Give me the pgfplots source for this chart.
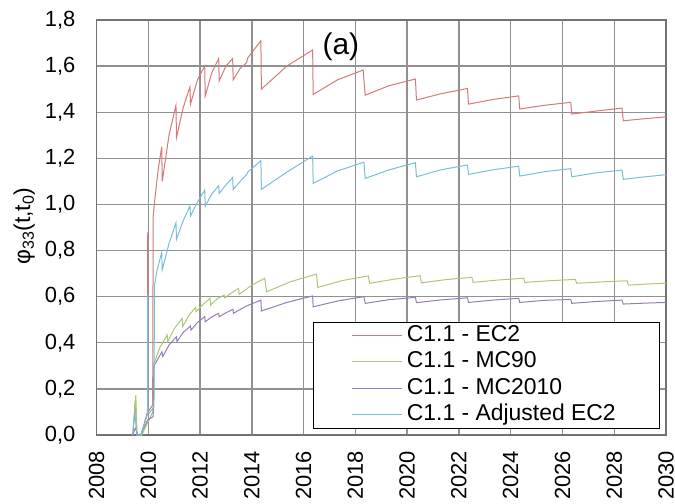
\documentclass[border=0pt]{standalone}
\usepackage{fontspec}
\setmainfont{Liberation Sans}
\usepackage{pgfplots}
\pgfplotsset{compat=1.18}
\definecolor{cred}{RGB}{214,120,120}
\definecolor{cgreen}{RGB}{170,200,120}
\definecolor{cpurple}{RGB}{150,125,180}
\definecolor{cblue}{RGB}{120,190,215}
\definecolor{cgrid}{RGB}{145,145,148}
\definecolor{cframe}{RGB}{115,115,118}
\begin{document}
\begin{tikzpicture}
\begin{axis}[
  at={(0,0)}, anchor=south west,
  scale only axis, width=569.5bp, height=415bp,
  xmin=2008, xmax=2030, ymin=0, ymax=1.8,
  xtick={2008,2010,...,2030},
  ytick={0,0.2,0.4,0.6,0.8,1.0,1.2,1.4,1.6,1.8},
  /pgf/number format/assume math mode=true,
  tick label style={font=\fontsize{22}{26}\selectfont},
  y tick label style={/pgf/number format/.cd, fixed, fixed zerofill, precision=1, use comma, /tikz/.cd, inner sep=0pt},
  x tick label style={/pgf/number format/.cd, 1000 sep={}, /tikz/.cd, rotate=90, anchor=east, inner sep=0pt},
  xticklabel shift=16bp,
  yticklabel shift=21bp,
  grid=major,
  major grid style={line width=1.4bp, color=cgrid},
  axis line style={line width=1.6bp, color=cframe},
  major tick length=0pt,
  ylabel={φ\textsubscript{33}(t,t\textsubscript{0})},
  ylabel style={at={(axis description cs:-0.127,0.503)}, anchor=center, font=\fontsize{23}{27}\selectfont},
  legend style={at={(0.988,0.016)}, anchor=south east, draw=black, line width=0.6bp,
    font=\fontsize{23}{27}\selectfont, row sep=0bp, inner sep=0bp,
    nodes={inner sep=2bp, text height=17bp, text depth=5.5bp}},
  legend cell align=left,
  legend image code/.code={\path (0bp,0bp) (91bp,0bp); \draw[#1, line width=1.2bp] (39bp,0bp) -- (89bp,0bp);},
  every axis plot/.append style={line width=1bp},
]
\addplot[color=cred] coordinates {
(2009.40,0) (2009.50,0.15) (2009.56,0) (2009.72,0) (2009.97,0.10) (2009.98,0.88) (2009.99,0.10)
(2010.17,0.13) (2010.19,0.95) (2010.26,1.03) (2010.38,1.15) (2010.52,1.25)
(2010.54,1.10) (2010.80,1.30) (2011.07,1.43)
(2011.09,1.29) (2011.35,1.42) (2011.61,1.51)
(2011.63,1.435) (2011.90,1.54) (2012.18,1.60)
(2012.20,1.47) (2012.45,1.57) (2012.72,1.633)
(2012.74,1.536) (2013.00,1.60) (2013.26,1.633)
(2013.28,1.54) (2013.55,1.59) (2013.80,1.615) (2013.84,1.635) (2014.35,1.71)
(2014.37,1.50) (2015.35,1.60) (2016.35,1.67)
(2016.37,1.477) (2017.30,1.54) (2018.30,1.583)
(2018.38,1.474) (2019.30,1.515) (2020.32,1.544)
(2020.36,1.453) (2021.30,1.48) (2022.33,1.503)
(2022.37,1.435) (2023.30,1.455) (2024.31,1.471)
(2024.35,1.414) (2025.30,1.43) (2026.32,1.443)
(2026.36,1.392) (2027.30,1.405) (2028.30,1.418)
(2028.35,1.363) (2029.20,1.372) (2030.00,1.38)
};
\addlegendentry{\makebox[250bp][l]{C1.1 - EC2}}
\addplot[color=cgreen] coordinates {
(2009.40,0) (2009.52,0.173) (2009.56,0.02) (2009.60,0) (2009.75,0) (2010.00,0.06) (2010.18,0.10)
(2010.22,0.31) (2010.45,0.38) (2010.73,0.434)
(2010.75,0.405) (2011.00,0.46) (2011.31,0.506)
(2011.33,0.47) (2011.55,0.515) (2011.83,0.554)
(2011.85,0.535) (2012.10,0.565) (2012.39,0.593)
(2012.41,0.564) (2012.65,0.59) (2012.93,0.607)
(2012.95,0.595) (2013.20,0.615) (2013.49,0.636)
(2013.51,0.61) (2014.00,0.65) (2014.50,0.68)
(2014.57,0.621) (2015.50,0.665) (2016.50,0.698)
(2016.55,0.64) (2017.50,0.67) (2018.50,0.69)
(2018.55,0.658) (2019.50,0.676) (2020.50,0.691)
(2020.55,0.66) (2021.50,0.674) (2022.50,0.684)
(2022.55,0.662) (2023.50,0.672) (2024.50,0.68)
(2024.55,0.662) (2025.50,0.669) (2026.50,0.675)
(2026.55,0.658) (2027.50,0.664) (2028.50,0.669)
(2028.55,0.65) (2029.30,0.655) (2030.00,0.658)
};
\addlegendentry{\makebox[250bp][l]{C1.1 - MC90}}
\addplot[color=cpurple] coordinates {
(2009.40,0) (2009.50,0.03) (2009.60,0) (2009.70,0) (2009.98,0.065) (2010.19,0.08)
(2010.22,0.30) (2010.40,0.335) (2010.53,0.361)
(2010.56,0.34) (2010.80,0.39) (2011.09,0.426)
(2011.11,0.405) (2011.35,0.445) (2011.63,0.473)
(2011.65,0.455) (2011.90,0.488) (2012.18,0.513)
(2012.20,0.491) (2012.45,0.512) (2012.72,0.528)
(2012.74,0.513) (2013.00,0.53) (2013.27,0.545)
(2013.29,0.528) (2013.80,0.56) (2014.35,0.585)
(2014.37,0.538) (2015.35,0.575) (2016.35,0.603)
(2016.37,0.556) (2017.35,0.582) (2018.33,0.60)
(2018.38,0.571) (2019.30,0.587) (2020.32,0.597)
(2020.36,0.574) (2021.30,0.586) (2022.33,0.595)
(2022.37,0.575) (2023.30,0.585) (2024.31,0.593)
(2024.35,0.575) (2025.30,0.584) (2026.32,0.588)
(2026.36,0.571) (2027.30,0.579) (2028.30,0.585)
(2028.35,0.568) (2029.20,0.572) (2030.00,0.575)
};
\addlegendentry{\makebox[250bp][l]{C1.1 - MC2010}}
\addplot[color=cblue] coordinates {
(2009.40,0) (2009.48,0.10) (2009.56,0) (2009.72,0) (2009.97,0.09) (2009.98,0.61) (2009.99,0.09)
(2010.22,0.12) (2010.24,0.65) (2010.35,0.72) (2010.52,0.792)
(2010.54,0.716) (2010.80,0.83) (2011.07,0.92)
(2011.09,0.849) (2011.35,0.93) (2011.61,0.993)
(2011.63,0.95) (2011.90,1.01) (2012.18,1.062)
(2012.20,0.993) (2012.45,1.045) (2012.72,1.081)
(2012.74,1.048) (2013.00,1.085) (2013.26,1.117)
(2013.28,1.065) (2013.55,1.10) (2013.80,1.13) (2013.84,1.14) (2014.35,1.19)
(2014.37,1.065) (2015.35,1.14) (2016.35,1.21)
(2016.37,1.091) (2017.30,1.145) (2018.33,1.183)
(2018.38,1.113) (2019.30,1.15) (2020.32,1.181)
(2020.36,1.12) (2021.30,1.15) (2022.33,1.171)
(2022.37,1.13) (2023.30,1.15) (2024.31,1.166)
(2024.35,1.123) (2025.30,1.142) (2026.32,1.155)
(2026.36,1.12) (2027.30,1.137) (2028.30,1.149)
(2028.35,1.109) (2029.20,1.12) (2030.00,1.129)
};
\addlegendentry{\makebox[250bp][l]{C1.1 - Adjusted EC2}}
\node[font=\fontsize{30}{36}\selectfont] at (axis cs:2017.44,1.683) {(a)};
\end{axis}
\pgfresetboundingbox
\path (-96.5bp,-69bp) rectangle (578.5bp,435bp);
\end{tikzpicture}
\end{document}
